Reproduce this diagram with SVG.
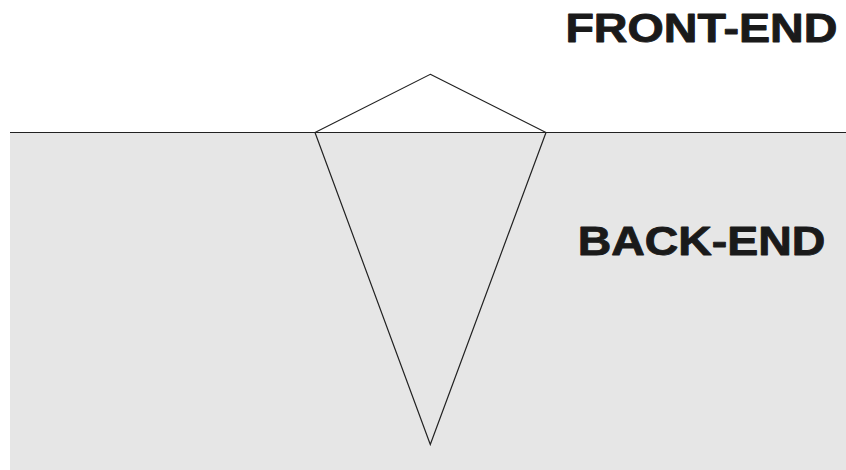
<svg xmlns="http://www.w3.org/2000/svg" width="846" height="470" viewBox="0 0 846 470">
<style>
.lbl{font-family:"Liberation Sans",Arial,sans-serif;font-weight:bold;font-size:40px;fill:#1a1a1a;stroke:#1a1a1a;stroke-width:0.9;stroke-linejoin:round}
.edge{fill:none;stroke:#222;stroke-width:1.2;stroke-linejoin:miter}
</style>
<rect x="0" y="0" width="846" height="470" fill="#fff"/>
<g id="backend-area">
<rect x="10" y="132.5" width="836" height="337.5" fill="#e6e6e6"/>
</g>
<g id="connectors">
<line class="edge" x1="10" y1="132.5" x2="846" y2="132.5"/>
<polygon class="edge" points="430.3,74.3 546,132.5 430.3,444.5 315,132.5"/>
</g>
<g id="front-end">
<text class="lbl" x="565.4" y="42.4" textLength="272" lengthAdjust="spacingAndGlyphs">FRONT-END</text>
</g>
<g id="back-end">
<text class="lbl" x="577.7" y="255.4" textLength="247.6" lengthAdjust="spacingAndGlyphs">BACK-END</text>
</g>
</svg>
